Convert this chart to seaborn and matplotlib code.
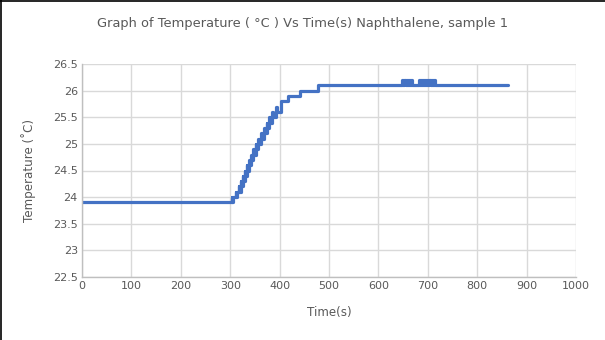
import matplotlib
matplotlib.use("Agg")
import matplotlib.pyplot as plt
import seaborn as sns
import pandas as pd
from matplotlib.lines import Line2D

# step change points (time s, temperature °C)
times = [0, 303, 304, 305, 311, 312, 313, 317, 318, 321, 322, 325, 326, 329, 330,
         334, 335, 339, 340, 343, 344, 347, 348, 352, 353, 357, 358, 363, 364,
         369, 370, 374, 375, 379, 380, 385, 386, 393, 394, 402, 417,
         441, 478,
         648, 650, 652, 655, 657, 659, 661, 663, 665, 668,
         682, 684, 686, 688, 690, 692, 694, 697, 699, 701, 703, 706, 708, 710, 712, 714,
         862]
temps = [23.9, 24.0, 23.9, 24.0, 24.1, 24.0, 24.1, 24.2, 24.1, 24.3, 24.2, 24.4, 24.3,
         24.5, 24.4, 24.6, 24.5, 24.7, 24.6, 24.8, 24.7, 24.9, 24.8, 25.0, 24.9,
         25.1, 25.0, 25.2, 25.1, 25.3, 25.2, 25.4, 25.3, 25.5, 25.4, 25.6, 25.5,
         25.7, 25.6, 25.8, 25.9,
         26.0, 26.1,
         26.2, 26.1, 26.2, 26.1, 26.2, 26.1, 26.2, 26.1, 26.2, 26.1,
         26.2, 26.1, 26.2, 26.1, 26.2, 26.1, 26.2, 26.1, 26.2, 26.1, 26.2, 26.1, 26.2, 26.1, 26.2, 26.1,
         26.1]

x_ticks = [0, 100, 200, 300, 400, 500, 600, 700, 800, 900, 1000]
y_ticks = [22.5, 23, 23.5, 24, 24.5, 25, 25.5, 26, 26.5]
y_labels = ["22.5", "23", "23.5", "24", "24.5", "25", "25.5", "26", "26.5"]

df = pd.DataFrame({"Time": times, "Temp": temps})

sns.set_theme(style="white")
plt.rcParams['font.family'] = ['DejaVu Sans']

fig = plt.figure(figsize=(6.05, 3.4), dpi=100)
ax = fig.add_axes([82 / 605, 1 - 277 / 340, (576 - 82) / 605, (277 - 64) / 340])

sns.lineplot(data=df, x="Time", y="Temp", ax=ax, color="#4472C4", linewidth=2.3,
             drawstyle="steps-post", estimator=None, sort=False)

ax.set_xlim(0, 1000)
ax.set_ylim(22.5, 26.5)
ax.set_xticks(x_ticks)
ax.set_yticks(y_ticks)
ax.set_yticklabels(y_labels)
ax.grid(True, color="#D9D9D9", linewidth=1)
ax.set_axisbelow(True)
for s in ["top", "right"]:
    ax.spines[s].set_visible(False)
for s in ["left", "bottom"]:
    ax.spines[s].set_color("#BFBFBF")
    ax.spines[s].set_linewidth(1)
ax.tick_params(axis="both", length=0, labelsize=8, colors="#595959", pad=3)

ax.set_xlabel("Time(s)", fontsize=8.6, color="#595959", labelpad=11)
ax.set_ylabel("Temperature (˚C)", fontsize=8.6, color="#595959", labelpad=12)
fig.text(0.5, 1 - 23 / 340, "Graph of Temperature ( °C ) Vs Time(s) Naphthalene, sample 1",
         ha="center", va="center", fontsize=9.4, color="#595959")

# figure border on left and top
fig.add_artist(Line2D([0.5 / 605, 0.5 / 605], [0, 1], color="black", linewidth=1.2,
                      transform=fig.transFigure))
fig.add_artist(Line2D([0, 1], [1 - 0.5 / 340, 1 - 0.5 / 340], color="black", linewidth=1.2,
                      transform=fig.transFigure))

fig.savefig("out.png", dpi=100)
